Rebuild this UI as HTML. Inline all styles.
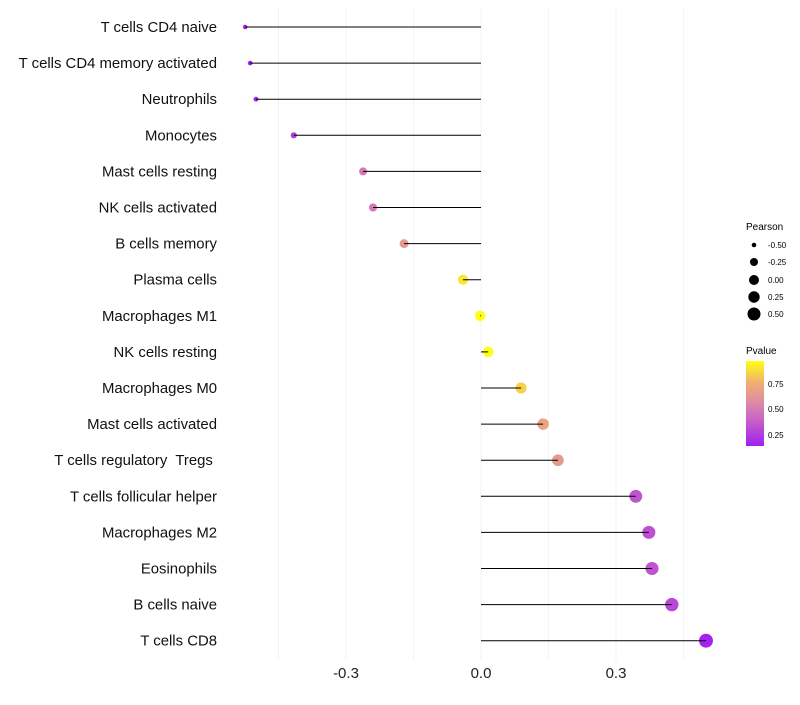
<!DOCTYPE html>
<html><head><meta charset="utf-8"><style>
body{margin:0;background:#fff;font-family:"Liberation Sans",sans-serif}
svg text{font-family:"Liberation Sans",sans-serif;white-space:pre}
</style></head><body>
<svg id="c" width="800" height="700" xmlns="http://www.w3.org/2000/svg">
<defs><linearGradient id="pg" x1="0" y1="1" x2="0" y2="0">
<stop offset="0" stop-color="#a020f0"/><stop offset="0.3" stop-color="#c860c8"/><stop offset="0.5" stop-color="#dc88a8"/><stop offset="0.75" stop-color="#f0b070"/><stop offset="1" stop-color="#ffff10"/></linearGradient></defs>
<g id="grid"></g><g id="marks"></g><g id="labels"></g>
<g>
<text x="746" y="230" font-size="10">Pearson</text>
<circle cx="754" cy="245" r="2.3"/><text x="768" y="248" font-size="8">-0.50</text>
<circle cx="754" cy="262" r="4"/><text x="768" y="265" font-size="8">-0.25</text>
<circle cx="754" cy="280" r="5"/><text x="768" y="283" font-size="8">0.00</text>
<circle cx="754" cy="297" r="5.7"/><text x="768" y="300" font-size="8">0.25</text>
<circle cx="754" cy="314" r="6.5"/><text x="768" y="317" font-size="8">0.50</text>
</g>
<g>
<text x="746" y="354" font-size="10">Pvalue</text>
<rect x="746" y="361" width="18" height="85" fill="url(#pg)"/>
<text x="768" y="387" font-size="8">0.75</text>
<text x="768" y="412" font-size="8">0.50</text>
<text x="768" y="438" font-size="8">0.25</text>
</g>
</svg>
<script>
const cells=["T cells CD4 naive","T cells CD4 memory activated","Neutrophils","Monocytes","Mast cells resting","NK cells activated","B cells memory","Plasma cells","Macrophages M1","NK cells resting","Macrophages M0","Mast cells activated","T cells regulatory  Tregs ","T cells follicular helper","Macrophages M2","Eosinophils","B cells naive","T cells CD8"];
const pearson=[-0.524,-0.513,-0.5,-0.416,-0.262,-0.24,-0.171,-0.04,-0.002,0.016,0.089,0.138,0.171,0.344,0.373,0.38,0.424,0.5];
const pvalue=[0.12,0.13,0.15,0.25,0.5,0.5,0.65,0.9,0.99,0.97,0.85,0.7,0.65,0.35,0.33,0.35,0.3,0.15];
const xTicks=[-0.3,0,0.3];
const xTickLabels=["-0.3","0.0","0.3"];
const NS="http://www.w3.org/2000/svg";
const xs=v=>481+v*450;
const ys=i=>27+i*36.1;
const rs=v=>Math.sqrt(Math.max(1,6+(v+0.5)*42));
const stops=[[0.14,[160,32,240]],[0.4,[200,96,200]],[0.56,[220,136,168]],[0.76,[240,176,112]],[0.97,[255,255,16]]];
function col(p){if(p<=stops[0][0])return`rgb(${stops[0][1]})`;for(let k=1;k<stops.length;k++){if(p<=stops[k][0]){const a=stops[k-1],b=stops[k],t=(p-a[0])/(b[0]-a[0]);return`rgb(${a[1].map((c,j)=>Math.round(c+(b[1][j]-c)*t))})`;}}return`rgb(${stops[4][1]})`;}
function mk(t,at,parent){const e=document.createElementNS(NS,t);for(const k in at)e.setAttribute(k,at[k]);parent.appendChild(e);return e;}
const grid=document.getElementById('grid'),marks=document.getElementById('marks'),labels=document.getElementById('labels');
[-0.45,-0.3,-0.15,0,0.15,0.3,0.45].forEach(v=>{const l=mk('line',{x1:xs(v),x2:xs(v),y1:8,y2:660,stroke:'#f3f3f3','stroke-width':1},grid);});
xTicks.forEach((v,i)=>{const t=mk('text',{x:xs(v),y:678,'font-size':15,'text-anchor':'middle',fill:'#222'},labels);t.textContent=xTickLabels[i];});
cells.forEach((c,i)=>{
const t=mk('text',{x:217,y:ys(i)+5,'font-size':14.9,'text-anchor':'end',fill:'#111'},labels);t.textContent=c;


const p=mk('circle',{cx:xs(pearson[i]),cy:ys(i),r:rs(pearson[i]),fill:col(pvalue[i])},marks);


const l=mk('line',{x1:xs(0),x2:xs(pearson[i]),y1:ys(i),y2:ys(i),stroke:'#000','stroke-width':1},marks);


});
</script>
</body></html>
